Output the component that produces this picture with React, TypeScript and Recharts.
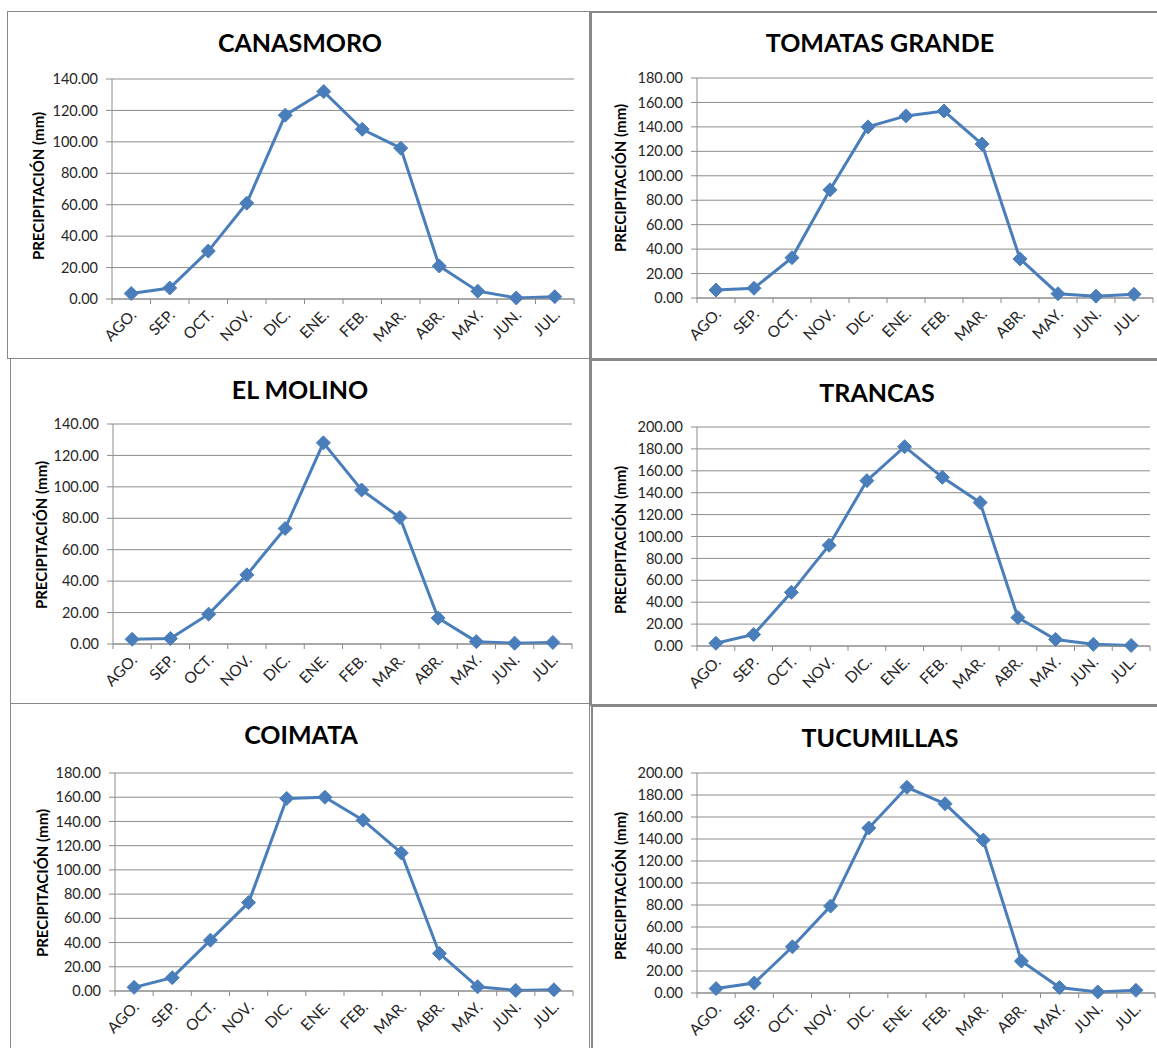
import React from "react";
import { LineChart, Line, XAxis, YAxis, CartesianGrid } from "recharts";

// months of the hydrological year, shown as category ticks
const MONTHS = ["AGO.", "SEP.", "OCT.", "NOV.", "DIC.", "ENE.", "FEB.", "MAR.", "ABR.", "MAY.", "JUN.", "JUL."];

// monthly precipitation (mm)
const CANASMORO = [3.5, 7.0, 30.5, 61.0, 117.0, 132.0, 108.0, 96.0, 21.0, 5.0, 0.7, 1.5];
const TOMATAS_GRANDE = [6.5, 8.0, 33.0, 88.5, 140.0, 149.0, 153.0, 126.0, 32.0, 3.5, 1.5, 3.0];
const EL_MOLINO = [3.0, 3.5, 19.0, 44.0, 73.5, 128.0, 98.0, 80.5, 16.5, 1.5, 0.5, 1.0];
const TRANCAS = [2.5, 10.5, 49.0, 92.0, 151.0, 182.0, 154.0, 131.0, 26.0, 6.0, 1.5, 0.5];
const COIMATA = [3.0, 11.0, 42.0, 73.0, 159.0, 160.0, 141.0, 114.0, 31.0, 3.5, 0.5, 1.0];
const TUCUMILLAS = [4.0, 9.0, 42.0, 79.0, 150.0, 187.0, 172.0, 139.0, 29.0, 5.0, 1.0, 2.5];

// y-axis tick values
const TICKS_140 = [0, 20, 40, 60, 80, 100, 120, 140];
const TICKS_180 = [0, 20, 40, 60, 80, 100, 120, 140, 160, 180];
const TICKS_200 = [0, 20, 40, 60, 80, 100, 120, 140, 160, 180, 200];

const TITLES = ["CANASMORO", "TOMATAS GRANDE", "EL MOLINO", "TRANCAS", "COIMATA", "TUCUMILLAS"];
const Y_LABEL = "PRECIPITACIÓN (mm)";

const LINE_COLOR = "#4A7EBB";
const GRID_COLOR = "#8C8C8C";
const FONT = "Lato, 'Open Sans', sans-serif";

type Panel = {
  title: string;
  values: number[];
  ticks: number[];
  frame: { x: number; y: number; w: number; h: number; bw: number };
  plot: { left: number; right: number; top: number; bottom: number };
  titleAt: { x: number; y: number };
  yLabelAt: { x: number; y: number };
};

const panels: Panel[] = [
  {
    title: TITLES[0],
    values: CANASMORO,
    ticks: TICKS_140,
    frame: { x: 7, y: 11, w: 583, h: 348, bw: 1 },
    plot: { left: 112, right: 574, top: 79, bottom: 299 },
    titleAt: { x: 300, y: 42 },
    yLabelAt: { x: 38, y: 186 },
  },
  {
    title: TITLES[1],
    values: TOMATAS_GRANDE,
    ticks: TICKS_180,
    frame: { x: 590, y: 11, w: 570, h: 349, bw: 2 },
    plot: { left: 697, right: 1153, top: 78, bottom: 298 },
    titleAt: { x: 880, y: 42 },
    yLabelAt: { x: 620, y: 178 },
  },
  {
    title: TITLES[2],
    values: EL_MOLINO,
    ticks: TICKS_140,
    frame: { x: 10, y: 358, w: 580, h: 346, bw: 1 },
    plot: { left: 113, right: 572, top: 424, bottom: 644 },
    titleAt: { x: 300, y: 389 },
    yLabelAt: { x: 41, y: 535 },
  },
  {
    title: TITLES[3],
    values: TRANCAS,
    ticks: TICKS_200,
    frame: { x: 590, y: 359, w: 570, h: 347, bw: 2 },
    plot: { left: 697, right: 1150, top: 427, bottom: 646 },
    titleAt: { x: 877, y: 392 },
    yLabelAt: { x: 620, y: 540 },
  },
  {
    title: TITLES[4],
    values: COIMATA,
    ticks: TICKS_180,
    frame: { x: 10, y: 703, w: 580, h: 350, bw: 1 },
    plot: { left: 115, right: 573, top: 773, bottom: 991 },
    titleAt: { x: 301, y: 734 },
    yLabelAt: { x: 42, y: 883 },
  },
  {
    title: TITLES[5],
    values: TUCUMILLAS,
    ticks: TICKS_200,
    frame: { x: 591, y: 705, w: 570, h: 350, bw: 2 },
    plot: { left: 697, right: 1155, top: 773, bottom: 993 },
    titleAt: { x: 880, y: 737 },
    yLabelAt: { x: 620, y: 886 },
  },
];

const Diamond = (props: any) => {
  const { cx, cy } = props;
  if (cx == null || cy == null) return null;
  const r = 7;
  return (
    <polygon
      points={`${cx},${cy - r} ${cx + r},${cy} ${cx},${cy + r} ${cx - r},${cy}`}
      fill={LINE_COLOR}
      stroke={LINE_COLOR}
      strokeWidth={1}
    />
  );
};

const MonthTick = (props: any) => {
  const { x, y, payload, index, step, count } = props;
  const ax = x + 6;
  const ay = y + 17;
  return (
    <g>
      <line x1={x - step / 2} x2={x - step / 2} y1={y} y2={y + 5} stroke={GRID_COLOR} />
      {index === count - 1 && (
        <line x1={x + step / 2} x2={x + step / 2} y1={y} y2={y + 5} stroke={GRID_COLOR} />
      )}
      <text
        x={ax}
        y={ay}
        textAnchor="end"
        transform={`rotate(-45 ${ax} ${ay})`}
        fontSize={15.5}
        fontFamily={FONT}
        fill="#262626"
      >
        {payload.value}
      </text>
    </g>
  );
};

const StationChart = ({ p }: { p: Panel }) => {
  const data = MONTHS.map((m, i) => ({ month: m, value: p.values[i] }));
  const { frame, plot } = p;
  const step = (plot.right - plot.left) / MONTHS.length;
  const ymax = p.ticks[p.ticks.length - 1];

  return (
    <>
      <div
        style={{
          position: "absolute",
          left: frame.x,
          top: frame.y,
          width: frame.w,
          height: frame.h,
          boxSizing: "border-box",
          border: `${frame.bw}px solid #888888`,
          background: "#fff",
        }}
      />
      <div style={{ position: "absolute", left: frame.x, top: frame.y }}>
        <LineChart
          width={frame.w}
          height={frame.h}
          data={data}
          margin={{
            top: plot.top - frame.y,
            right: frame.x + frame.w - plot.right,
            bottom: 0,
            left: 0,
          }}
        >
          <CartesianGrid vertical={false} stroke={GRID_COLOR} strokeWidth={1} />
          <XAxis
            dataKey="month"
            interval={0}
            padding={{ left: step / 2, right: step / 2 }}
            tickLine={false}
            tickSize={0}
            tickMargin={0}
            axisLine={{ stroke: GRID_COLOR }}
            tick={(t: any) => <MonthTick {...t} step={step} count={MONTHS.length} />}
            height={frame.y + frame.h - plot.bottom}
          />
          <YAxis
            width={plot.left - frame.x}
            domain={[0, ymax]}
            ticks={p.ticks}
            interval={0}
            tickFormatter={(v: number) => v.toFixed(2)}
            axisLine={{ stroke: GRID_COLOR }}
            tickLine={{ stroke: GRID_COLOR }}
            tickSize={6}
            tickMargin={8}
            tick={{ fontSize: 14.5, fontFamily: FONT, fill: "#262626" }}
          />
          <Line
            type="linear"
            dataKey="value"
            stroke={LINE_COLOR}
            strokeWidth={3}
            dot={(d: any) => <Diamond key={`d-${d.index}`} {...d} />}
            activeDot={false}
            isAnimationActive={false}
          />
        </LineChart>
      </div>
      <div
        style={{
          position: "absolute",
          left: p.titleAt.x,
          top: p.titleAt.y,
          transform: "translate(-50%, -50%)",
          fontFamily: FONT,
          fontWeight: 700,
          fontSize: 25,
          color: "#000",
          whiteSpace: "nowrap",
          lineHeight: 1,
        }}
      >
        {p.title}
      </div>
      <div
        style={{
          position: "absolute",
          left: p.yLabelAt.x,
          top: p.yLabelAt.y,
          transform: "translate(-50%, -50%) rotate(-90deg)",
          fontFamily: FONT,
          fontWeight: 700,
          fontSize: 15,
          color: "#000",
          whiteSpace: "nowrap",
          lineHeight: 1,
        }}
      >
        {Y_LABEL}
      </div>
    </>
  );
};

export default function App() {
  return (
    <div
      style={{
        position: "absolute",
        left: 0,
        top: 0,
        width: 1157,
        height: 1048,
        overflow: "hidden",
        background: "#fff",
      }}
    >
      {panels.map((p) => (
        <StationChart key={p.title} p={p} />
      ))}
    </div>
  );
}
